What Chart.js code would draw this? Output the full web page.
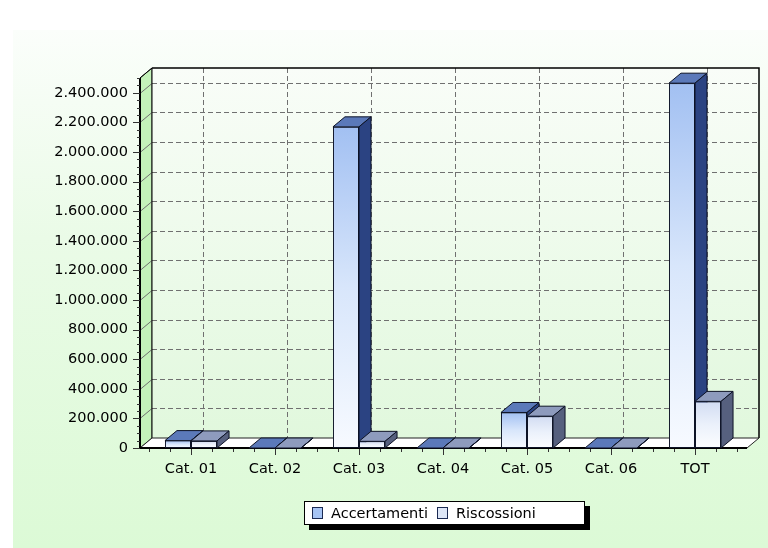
<!DOCTYPE html>
<html lang="it">
<head>
<meta charset="utf-8">
<title>Accertamenti e Riscossioni</title>
<script src="https://cdn.jsdelivr.net/npm/chart.js@4.4.1/dist/chart.umd.min.js"></script>
<style>
  html, body { margin: 0; padding: 0; background: #fff; }
  #wrap { position: relative; width: 768px; height: 548px; overflow: hidden; }
  #panel {
    position: absolute; left: 13px; top: 30px; right: 0; bottom: 0;
    background: linear-gradient(to bottom, #fbfefb 0%, #eafbe7 40%, #dcfad6 100%);
  }
  #grafico { position: absolute; left: 0; top: 0; }
  #legenda {
    position: absolute; left: 304px; top: 501px; width: 279px; height: 22px;
    background: #fff; border: 1px solid #000; box-shadow: 5px 5px 0 #000;
    display: flex; align-items: center;
    font: 14.5px "DejaVu Sans", sans-serif; color: #000; white-space: nowrap;
  }
  #legenda .box {
    display: inline-block; width: 9px; height: 10px; border: 1px solid #1b2a52;
    margin: 0 8px 0 9px;
  }
  #legenda .box:first-child { margin-left: 7px; }
</style>
</head>
<body>
<div id="wrap">
  <div id="panel"></div>
  <canvas id="grafico" width="768" height="548"></canvas>
  <div id="legenda"></div>
</div>
<script>
// dati
const categorie = ['Cat. 01', 'Cat. 02', 'Cat. 03', 'Cat. 04', 'Cat. 05', 'Cat. 06', 'TOT'];
const accertamenti = [50000, 0, 2170000, 0, 240000, 0, 2465000];
const riscossioni = [48000, 0, 45000, 0, 215000, 0, 315000];
const nomiSerie = ['Accertamenti', 'Riscossioni'];
const valoriY = [0, 200000, 400000, 600000, 800000, 1000000, 1200000,
                 1400000, 1600000, 1800000, 2000000, 2200000, 2400000];
const massimoY = 2500000;

// profondita' della prospettiva
const DX = 12, DY = -10;

const stili = [
  { front: ['#a2c0f2', '#d8e6fb', '#f7faff'], top: '#5b79b9', side: '#2b4382', legend: '#a6c4f4' },
  { front: ['#d2dcf2', '#ebf1fb', '#fcfdff'], top: '#8e9bbd', side: '#56607e', legend: '#dde6f6' }
];

const formatta = v => String(v).replace(/\B(?=(\d{3})+(?!\d))/g, '.');

function poligono(ctx, punti, colore) {
  ctx.beginPath();
  ctx.moveTo(punti[0][0], punti[0][1]);
  for (let k = 1; k < punti.length; k++) ctx.lineTo(punti[k][0], punti[k][1]);
  ctx.closePath();
  if (colore) { ctx.fillStyle = colore; ctx.fill(); }
  ctx.stroke();
}

// gradiente verticale per ogni barra, dalla cima alla base
function sfumatura(d) {
  return c => {
    const y = c.chart.scales.y;
    if (!y || !c.parsed) return stili[d].front[0];
    const cima = y.getPixelForValue(c.parsed.y);
    const base = y.getPixelForValue(0);
    if (!Number.isFinite(cima) || !Number.isFinite(base) || base - cima < 1) return stili[d].front[0];
    const g = c.chart.ctx.createLinearGradient(0, cima, 0, base);
    g.addColorStop(0, stili[d].front[0]);
    g.addColorStop(0.5, stili[d].front[1]);
    g.addColorStop(1, stili[d].front[2]);
    return g;
  };
}

// pareti, pavimento e griglia
const cornice3d = {
  id: 'cornice3d',
  beforeDatasetsDraw(chart) {
    const { ctx, chartArea: a, scales: { x, y } } = chart;
    const x0 = a.left - 9, x1 = a.right + 10;
    const yb = y.getPixelForValue(0), yt = a.top;
    const passo = valoriY[1] - valoriY[0];
    ctx.save();
    ctx.lineWidth = 1;

    // parete sinistra
    ctx.strokeStyle = '#333';
    poligono(ctx, [[x0, yb], [x0, yt], [x0 + DX, yt + DY], [x0 + DX, yb + DY]], '#c4f2ba');

    // parete di fondo
    const g = ctx.createLinearGradient(0, yt + DY, 0, yb + DY);
    g.addColorStop(0, '#f9fdf8');
    g.addColorStop(1, '#e1f8dd');
    ctx.fillStyle = g;
    ctx.fillRect(x0 + DX, yt + DY, x1 - x0, yb - yt);

    // griglia orizzontale, con il tratto obliquo sulla parete sinistra
    ctx.strokeStyle = '#707070';
    y.ticks.forEach(t => {
      if (t.value === 0) return;
      const yy = Math.round(y.getPixelForValue(t.value)) + 0.5;
      ctx.setLineDash([]);
      ctx.beginPath(); ctx.moveTo(x0, yy); ctx.lineTo(x0 + DX, yy + DY); ctx.stroke();
      ctx.setLineDash([5, 3]);
      ctx.beginPath(); ctx.moveTo(x0 + DX, yy + DY); ctx.lineTo(x1 + DX, yy + DY); ctx.stroke();
    });
    // griglia verticale
    ctx.setLineDash([5, 3]);
    categorie.forEach((_, i) => {
      const xx = Math.round(x.getPixelForValue(i)) + DX + 0.5;
      ctx.beginPath(); ctx.moveTo(xx, yt + DY); ctx.lineTo(xx, yb + DY); ctx.stroke();
    });
    ctx.setLineDash([]);

    // bordi della parete di fondo
    ctx.strokeStyle = '#000';
    ctx.lineWidth = 1.5;
    ctx.beginPath();
    ctx.moveTo(x0 + DX, yt + DY); ctx.lineTo(x1 + DX, yt + DY); ctx.lineTo(x1 + DX, yb + DY);
    ctx.stroke();
    ctx.lineWidth = 1;
    ctx.beginPath(); ctx.moveTo(x0 + DX, yt + DY); ctx.lineTo(x0 + DX, yb + DY); ctx.stroke();

    // pavimento
    ctx.strokeStyle = '#222';
    poligono(ctx, [[x0, yb], [x1, yb], [x1 + DX, yb + DY], [x0 + DX, yb + DY]], '#ffffff');
    ctx.strokeStyle = '#000';
    ctx.lineWidth = 2;
    ctx.beginPath(); ctx.moveTo(x0, yt); ctx.lineTo(x0, yb); ctx.lineTo(x1, yb); ctx.stroke();
    ctx.lineWidth = 1;
    ctx.beginPath(); ctx.moveTo(x0, yt); ctx.lineTo(x0 + DX, yt + DY); ctx.stroke();

    // tacche asse y
    ctx.strokeStyle = '#333';
    for (let v = 0; v <= y.max; v += passo / 4) {
      const yy = Math.round(y.getPixelForValue(v)) + 0.5;
      const lung = v % passo === 0 ? 7 : 3;
      ctx.beginPath(); ctx.moveTo(x0 - lung, yy); ctx.lineTo(x0, yy); ctx.stroke();
    }
    // tacche asse x
    const q = (a.right - a.left) / (categorie.length * 4);
    for (let k = 0; k <= categorie.length * 4; k++) {
      const xx = Math.round(a.left + k * q) + 0.5;
      const lung = k % 4 === 2 ? 6 : 3;
      ctx.beginPath(); ctx.moveTo(xx, yb + 1); ctx.lineTo(xx, yb + 1 + lung); ctx.stroke();
    }
    ctx.restore();
  }
};

// facce superiori e laterali delle barre, categoria per categoria
const barre3d = {
  id: 'barre3d',
  afterDatasetsDraw(chart) {
    const { ctx } = chart;
    const metas = chart.data.datasets.map((_, d) => chart.getDatasetMeta(d));
    categorie.forEach((_, i) => {
      metas.forEach((meta, d) => {
        const el = meta.data[i];
        if (!el) return;
        const { x, y, base, width } = el.getProps(['x', 'y', 'base', 'width'], true);
        const l = x - width / 2, r = x + width / 2;
        el.draw(ctx);
        ctx.save();
        ctx.lineWidth = 1;
        ctx.lineJoin = 'round';
        ctx.strokeStyle = '#0d1326';
        poligono(ctx, [[l, y], [r, y], [r + DX, y + DY], [l + DX, y + DY]], stili[d].top);
        poligono(ctx, [[r, y], [r + DX, y + DY], [r + DX, base + DY], [r, base]], stili[d].side);
        ctx.restore();
      });
    });
  }
};

Chart.defaults.font.family = '"DejaVu Sans", sans-serif';
Chart.defaults.font.size = 14.5;
Chart.defaults.color = '#000';

const grafico = new Chart(document.getElementById('grafico'), {
  type: 'bar',
  data: {
    labels: categorie,
    datasets: [{
      label: nomiSerie[0],
      data: accertamenti,
      backgroundColor: sfumatura(0),
      borderColor: '#0d1326',
      borderWidth: 1,
      borderSkipped: false
    }, {
      label: nomiSerie[1],
      data: riscossioni,
      backgroundColor: sfumatura(1),
      borderColor: '#0d1326',
      borderWidth: 1,
      borderSkipped: false
    }]
  },
  options: {
    responsive: false,
    devicePixelRatio: 1,
    animation: false,
    events: [],
    layout: { padding: { left: 0, right: 31, top: 78, bottom: 70 } },
    datasets: { bar: { categoryPercentage: 0.62, barPercentage: 1 } },
    scales: {
      x: {
        grid: { display: false, drawTicks: false },
        border: { display: false },
        ticks: { padding: 13 },
        afterFit: s => { s.height = 30; }
      },
      y: {
        min: 0,
        max: massimoY,
        grid: { display: false, drawTicks: false },
        border: { display: false },
        ticks: { autoSkip: false, padding: 21, callback: v => formatta(v) },
        afterBuildTicks: s => { s.ticks = valoriY.map(v => ({ value: v })); },
        afterFit: s => { s.width = 149; }
      }
    },
    plugins: {
      legend: { display: false },
      tooltip: { enabled: false }
    }
  },
  plugins: [cornice3d, barre3d]
});

// legenda
const legenda = document.getElementById('legenda');
grafico.data.datasets.forEach((ds, d) => {
  const box = document.createElement('span');
  box.className = 'box';
  box.style.background = stili[d].legend;
  const testo = document.createElement('span');
  testo.textContent = ds.label;
  legenda.appendChild(box);
  legenda.appendChild(testo);
});
</script>
</body>
</html>
